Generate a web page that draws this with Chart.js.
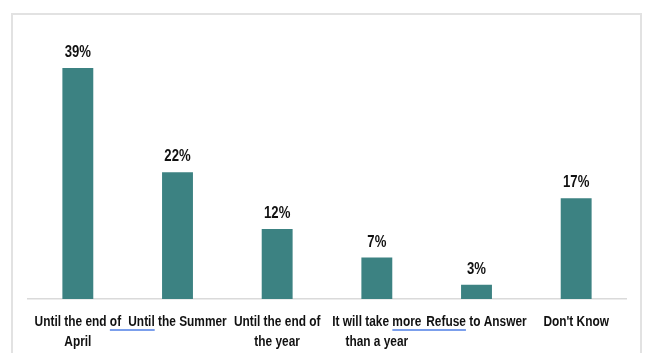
<!DOCTYPE html>
<html>
<head>
<meta charset="utf-8">
<script src="https://cdn.jsdelivr.net/npm/chart.js@4/dist/chart.umd.min.js"></script>
<style>
  html, body { margin: 0; padding: 0; background: #fff; }
  #wrap { position: relative; width: 645px; height: 353px; }
  #frame { position: absolute; left: 11px; top: 13px; width: 627px; height: 345px;
           border: 2px solid #e2e2e2; border-bottom: none; }
  canvas { position: absolute; left: 0; top: 0; }
</style>
</head>
<body>
<div id="wrap">
  <div id="frame"></div>
  <canvas id="answersChart" width="645" height="353"></canvas>
</div>
<script>
// categories (multi-line labels as they wrap in the picture)
const categories = [
    ['Until the end of', 'April'],
    ['Until the Summer'],
    ['Until the end of', 'the year'],
    ['It will take more', 'than a year'],
    ['Refuse to Answer'],
    ["Don't Know"]
];
// bar heights
const shares = [39, 21.4, 11.8, 7.0, 2.4, 17.0];
// labels printed above the bars
const shareLabels = ['39%', '22%', '12%', '7%', '3%', '17%'];

// no narrow font installed, so Liberation Sans is squeezed to Arial Narrow width
const FONT = "'Liberation Sans', Arial, sans-serif";
const SQUEEZE = 0.82;

function narrowText(ctx, text, x, y) {
    ctx.save();
    ctx.translate(x, y);
    ctx.scale(SQUEEZE, 1);
    ctx.fillText(text, 0, 0);
    ctx.restore();
}

// value labels above the bars
const barLabels = {
    id: 'barLabels',
    afterDatasetsDraw(chart) {
        const ctx = chart.ctx;
        const meta = chart.getDatasetMeta(0);
        ctx.save();
        ctx.font = 'bold 16px ' + FONT;
        ctx.fillStyle = '#111';
        ctx.textAlign = 'center';
        ctx.textBaseline = 'alphabetic';
        meta.data.forEach((bar, i) => {
            narrowText(ctx, shareLabels[i], bar.x, bar.y - 11);
        });
        ctx.restore();
    }
};

// category labels under the axis, plus the blue spell-check underlines
const catLabels = {
    id: 'catLabels',
    afterDraw(chart) {
        const ctx = chart.ctx;
        const x = chart.scales.x;
        ctx.save();
        ctx.font = 'bold 14.5px ' + FONT;
        ctx.fillStyle = '#111';
        ctx.textAlign = 'center';
        ctx.textBaseline = 'middle';
        categories.forEach((lines, i) => {
            lines.forEach((line, k) => {
                narrowText(ctx, line, x.getPixelForTick(i), x.top + 23 + k * 20);
            });
        });

        const w = t => ctx.measureText(t).width * SQUEEZE;
        const y = x.top + 31;
        const under = (i, j, tailWord, headWord) => {
            const endA = x.getPixelForTick(i) + w(categories[i][0]) / 2;
            const startB = x.getPixelForTick(j) - w(categories[j][0]) / 2;
            ctx.strokeStyle = '#4f7fe6';
            ctx.lineWidth = 1.5;
            ctx.beginPath();
            ctx.moveTo(endA - w(tailWord), y);
            ctx.lineTo(startB + w(headWord), y);
            ctx.stroke();
        };
        under(0, 1, 'of', 'Until');
        under(3, 4, 'more', 'Refuse');
        ctx.restore();
    }
};

const ctxAnswers = document.getElementById('answersChart').getContext('2d');

const answersChart = new Chart(ctxAnswers, {
    type: 'bar',
    data: {
        labels: categories,
        datasets: [{
            data: shares,
            backgroundColor: '#3c8282',
            borderWidth: 0,
            categoryPercentage: 1,
            barPercentage: 0.31
        }]
    },
    options: {
        responsive: false,
        animation: false,
        events: [],
        layout: {
            padding: { left: 28, right: 19, top: 32.5, bottom: 0 }
        },
        plugins: {
            legend: { display: false },
            tooltip: { enabled: false }
        },
        scales: {
            x: {
                grid: { display: false, drawTicks: false },
                border: { display: true, color: '#dadada', width: 1.5 },
                afterFit(scale) { scale.height = 54; },
                ticks: { display: false }
            },
            y: {
                display: false,
                beginAtZero: true,
                max: 45
            }
        }
    },
    plugins: [barLabels, catLabels]
});
</script>
</body>
</html>
